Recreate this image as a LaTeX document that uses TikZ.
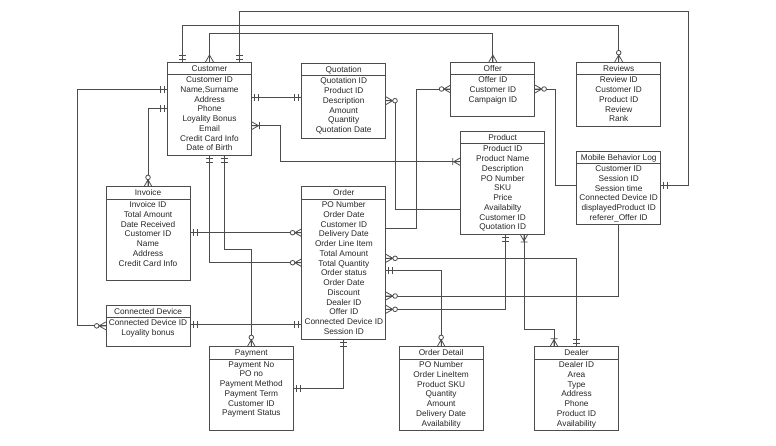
\documentclass[tikz,border=0pt]{standalone}
\usepackage{fontspec}
\setmainfont{Liberation Sans}
\usetikzlibrary{positioning}

\begin{document}
\begin{tikzpicture}[x=1pt, y=-1pt, every node/.style={font=\fontsize{8.3}{9.75}\selectfont, text=black!85}]
    \tikzset{ebox/.style={rectangle, draw=black!70, line width=0.8pt, minimum width=84pt, inner sep=0pt, outer sep=0pt}}
    \tikzset{ehead/.style={ebox, anchor=north, minimum height=12.6pt, text height=6.2pt, text depth=0.8pt}}
    \tikzset{eattr/.style={align=center, inner xsep=0pt, inner ysep=2pt}}
    \tikzset{conn/.style={draw=black!70, line width=0.8pt}}
    \tikzset{erline/.style={draw=black!70, line width=0.8pt}}
    % crow's foot ends, entity lies towards +x
    \tikzset{one/.pic={\draw [erline] (-3,-3.5) -- (-3,3.5) (-7,-3.5) -- (-7,3.5);}}
    \tikzset{many/.pic={\draw [erline] (0,-4) -- (-7,0) -- (0,4) (-7,0) -- (0,0);}}
    \tikzset{zmany/.pic={\draw [erline] (0,-4) -- (-7,0) -- (0,4) (-7,0) -- (0,0); \draw [erline, fill=white] (-9.3,0) circle (2.3);}}
    \tikzset{omany/.pic={\draw [erline] (0,-4) -- (-7,0) -- (0,4) (-7,0) -- (0,0) (-8,-3.5) -- (-8,3.5);}}

    \useasboundingbox (0,0) rectangle (776,445);

    \node [ebox, minimum height=93pt] (cust) at (209.5,108.5) {};
    \node [ehead] (cust-h) at (cust.north) {Customer};
    \node [eattr, below=0pt of cust-h] (cust-a) {Customer ID\\Name,Surname\\Address\\Phone\\Loyality Bonus\\Email\\Credit Card Info\\Date of Birth};

    \node [ebox, minimum height=75pt] (quot) at (343.7,100.5) {};
    \node [ehead] (quot-h) at (quot.north) {Quotation};
    \node [eattr, below=0pt of quot-h] (quot-a) {Quotation ID\\Product ID\\Description\\Amount\\Quantity\\Quotation Date};

    \node [ebox, minimum height=54pt] (offer) at (492.85,89) {};
    \node [ehead] (offer-h) at (offer.north) {Offer};
    \node [eattr, below=0pt of offer-h] (offer-a) {Offer ID\\Customer ID\\Campaign ID};

    \node [ebox, minimum height=64pt] (rev) at (618.7,94) {};
    \node [ehead] (rev-h) at (rev.north) {Reviews};
    \node [eattr, below=0pt of rev-h] (rev-a) {Review ID\\Customer ID\\Product ID\\Review\\Rank};

    \node [ebox, minimum height=103pt] (prod) at (502.7,182.5) {};
    \node [ehead] (prod-h) at (prod.north) {Product};
    \node [eattr, below=0pt of prod-h] (prod-a) {Product ID\\Product Name\\Description\\PO Number\\SKU\\Price\\Availabilty\\Customer ID\\Quotation ID};

    \node [ebox, minimum height=73pt] (mbl) at (618.7,187.5) {};
    \node [ehead] (mbl-h) at (mbl.north) {Mobile Behavior Log};
    \node [eattr, below=0pt of mbl-h] (mbl-a) {Customer ID\\Session ID\\Session time\\Connected Device ID\\displayedProduct ID\\referer\_Offer ID};

    \node [ebox, minimum height=94pt] (inv) at (148,233.7) {};
    \node [ehead] (inv-h) at (inv.north) {Invoice};
    \node [eattr, below=0pt of inv-h] (inv-a) {Invoice ID\\Total Amount\\Date Received\\Customer ID\\Name\\Address\\Credit Card Info};

    \node [ebox, minimum height=152.6pt] (ord) at (343.85,263) {};
    \node [ehead] (ord-h) at (ord.north) {Order};
    \node [eattr, below=0pt of ord-h] (ord-a) {PO Number\\Order Date\\Customer ID\\Delivery Date\\Order Line Item\\Total Amount\\Total Quantity\\Order status\\Order Date\\Discount\\Dealer ID\\Offer ID\\Connected Device ID\\Session ID};

    \node [ebox, minimum height=41.7pt] (cdev) at (148,325.85) {};
    \node [ehead] (cdev-h) at (cdev.north) {Connected Device};
    \node [eattr, below=0pt of cdev-h] (cdev-a) {Connected Device ID\\Loyality bonus};

    \node [ebox, minimum height=84pt] (pay) at (251.3,388.7) {};
    \node [ehead] (pay-h) at (pay.north) {Payment};
    \node [eattr, below=0pt of pay-h] (pay-a) {Payment No\\PO no\\Payment Method\\Payment Term\\Customer ID\\Payment Status};

    \node [ebox, minimum height=84pt] (odet) at (441.15,388.7) {};
    \node [ehead] (odet-h) at (odet.north) {Order Detail};
    \node [eattr, below=0pt of odet-h] (odet-a) {PO Number\\Order LineItem\\Product SKU\\Quantity\\Amount\\Delivery Date\\Availability};

    \node [ebox, minimum height=84pt] (deal) at (576.5,388.7) {};
    \node [ehead] (deal-h) at (deal.north) {Dealer};
    \node [eattr, below=0pt of deal-h] (deal-a) {Dealer ID\\Area\\Type\\Address\\Phone\\Product ID\\Availability};

    % relations
    \path [conn] (cust.north -| 239.3,0) -- (239.3,11) -- (688.3,11) |- (mbl.east |- 0,185.7);
    \path [conn] (cust.north -| 182.3,0) -- (182.3,25) -| (rev.north);
    \path [conn] (cust.north) |- (offer.north |- 0,33.3) -- (offer.north);
    \path [conn] (cust.west |- 0,89.3) -| (cdev.west -| 77.3,0) -- (cdev.west);
    \path [conn] (cust.west |- 0,108.3) -| (inv.north);
    \path [conn] (cust.east |- 0,97.7) -- (quot.west |- 0,97.7);
    \path [conn] (cust.east |- 0,125.7) -- (280,125.7) |- (prod.west |- 0,161.7);
    \path [conn] (quot.east |- 0,100.7) -- (395,100.7) |- (prod.west |- 0,209);
    \path [conn] (ord.east |- 0,228.3) -- (416.7,228.3) |- (offer.west);
    \path [conn] (offer.east) -- (555,89) |- (mbl.west |- 0,185.7);
    \path [conn] (mbl.south) |- (ord.east |- 0,296);
    \path [conn] (prod.south -| 505.7,0) |- (ord.east |- 0,309.3);
    \path [conn] (prod.south -| 524,0) |- (554,329.3) -- (deal.north -| 554,0);
    \path [conn] (ord.east |- 0,258.3) -| (deal.north);
    \path [conn] (ord.east |- 0,270.7) -| (odet.north);
    \path [conn] (inv.east |- 0,232.7) -- (ord.west |- 0,232.7);
    \path [conn] (cust.south) |- (ord.west |- 0,262.7);
    \path [conn] (cust.south -| 224.3,0) |- (pay.north |- 0,249.3) -- (pay.north);
    \path [conn] (cdev.east |- 0,324.3) -- (ord.west |- 0,324.3);
    \path [conn] (ord.south) |- (pay.east);

    % ends
    \pic [rotate=-90] at (cust.north -| 239.3,0) {one};
    \pic [rotate=180] at (mbl.east |- 0,185.7) {one};
    \pic [rotate=-90] at (cust.north -| 182.3,0) {one};
    \pic [rotate=-90] at (rev.north) {zmany};
    \pic [rotate=-90] at (cust.north) {many};
    \pic [rotate=-90] at (offer.north) {many};
    \pic at (cust.west |- 0,89.3) {one};
    \pic at (cdev.west) {zmany};
    \pic at (cust.west |- 0,108.3) {one};
    \pic [rotate=-90] at (inv.north) {zmany};
    \pic [rotate=180] at (cust.east |- 0,97.7) {one};
    \pic at (quot.west |- 0,97.7) {one};
    \pic [rotate=180] at (cust.east |- 0,125.7) {omany};
    \pic at (prod.west |- 0,161.7) {omany};
    \pic [rotate=180] at (quot.east |- 0,100.7) {zmany};
    \pic at (offer.west) {zmany};
    \pic [rotate=180] at (offer.east) {zmany};
    \pic [rotate=180] at (ord.east |- 0,296) {zmany};
    \pic [rotate=90] at (prod.south -| 505.7,0) {one};
    \pic [rotate=180] at (ord.east |- 0,309.3) {zmany};
    \pic [rotate=90] at (prod.south -| 524,0) {omany};
    \pic [rotate=-90] at (deal.north -| 554,0) {omany};
    \pic [rotate=180] at (ord.east |- 0,258.3) {zmany};
    \pic [rotate=-90] at (deal.north) {one};
    \pic [rotate=180] at (ord.east |- 0,270.7) {one};
    \pic [rotate=-90] at (odet.north) {zmany};
    \pic [rotate=180] at (inv.east |- 0,232.7) {one};
    \pic at (ord.west |- 0,232.7) {zmany};
    \pic [rotate=90] at (cust.south) {one};
    \pic at (ord.west |- 0,262.7) {zmany};
    \pic [rotate=90] at (cust.south -| 224.3,0) {one};
    \pic [rotate=-90] at (pay.north) {zmany};
    \pic [rotate=180] at (cdev.east |- 0,324.3) {one};
    \pic at (ord.west |- 0,324.3) {one};
    \pic [rotate=90] at (ord.south) {one};
    \pic [rotate=180] at (pay.east) {one};
\end{tikzpicture}
\end{document}
